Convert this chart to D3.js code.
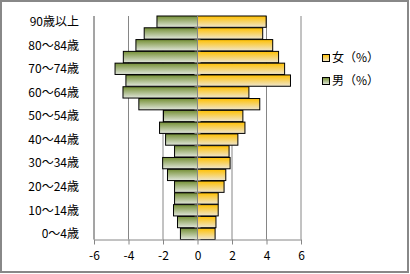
<!DOCTYPE html>
<html>
<head>
<meta charset="utf-8">
<script src="https://cdn.jsdelivr.net/npm/d3@7"></script>
<style>
  body { margin: 0; background: #fff; }
  svg { display: block; font-family: "Noto Sans CJK JP", "DejaVu Sans", sans-serif; }
</style>
</head>
<body>
<svg id="chart"></svg>
<script>
// age groups, bottom to top
const ageGroups = ['0〜4歳', '5〜9歳', '10〜14歳', '15〜19歳', '20〜24歳', '25〜29歳', '30〜34歳',
  '35〜39歳', '40〜44歳', '45〜49歳', '50〜54歳', '55〜59歳', '60〜64歳', '65〜69歳',
  '70〜74歳', '75〜79歳', '80〜84歳', '85〜89歳', '90歳以上'];
const shownLabels = ['0〜4歳', '10〜14歳', '20〜24歳', '30〜34歳', '40〜44歳', '50〜54歳',
  '60〜64歳', '70〜74歳', '80〜84歳', '90歳以上'];
const female = [1.02, 1.07, 1.2, 1.2, 1.54, 1.64, 1.89, 1.83, 2.34, 2.75, 2.63, 3.61, 2.98,
  5.39, 5.05, 4.7, 4.36, 3.78, 3.98];
const male = [-0.99, -1.16, -1.39, -1.33, -1.33, -1.74, -2.02, -1.33, -1.85, -2.2, -1.97, -3.4,
  -4.32, -4.15, -4.78, -4.3, -3.57, -3.09, -2.35];
const xTicks = [-6, -4, -2, 0, 2, 4, 6];
const seriesNames = ['女（%）', '男（%）'];

const W = 410, H = 274;
const plot = { left: 94, right: 301, top: 16, bottom: 239.5 };

const svg = d3.select('#chart').attr('width', W).attr('height', H);

// gradients
const defs = svg.append('defs');
function grad(id, top, bottom) {
  const g = defs.append('linearGradient').attr('id', id)
    .attr('x1', 0).attr('y1', 0).attr('x2', 0).attr('y2', 1);
  g.append('stop').attr('offset', '0%').attr('stop-color', top);
  g.append('stop').attr('offset', '100%').attr('stop-color', bottom);
}
grad('gF', '#ffc000', '#efe6cf');
grad('gM', '#748f34', '#e1e6dc');

// outer border
svg.append('rect')
  .attr('x', 1).attr('y', 1).attr('width', 407).attr('height', 271)
  .attr('fill', '#fff').attr('stroke', '#888').attr('stroke-width', 2);

const x = d3.scaleLinear().domain([-6, 6]).range([plot.left, plot.right]);
const y = d3.scaleBand().domain(ageGroups).range([plot.bottom, plot.top]).paddingInner(0.04);

// gridlines
svg.append('g')
  .selectAll('line')
  .data(xTicks.filter(d => d !== 0))
  .join('line')
  .attr('x1', d => x(d)).attr('x2', d => x(d))
  .attr('y1', plot.top).attr('y2', plot.bottom)
  .attr('stroke', '#868686').attr('stroke-width', 1);

// bars
const bh = y.bandwidth();
svg.append('g')
  .selectAll('rect')
  .data(ageGroups.map((a, i) => ({ a, v: male[i] })))
  .join('rect')
  .attr('x', d => x(d.v)).attr('y', d => y(d.a))
  .attr('width', d => x(0) - x(d.v)).attr('height', bh)
  .attr('fill', 'url(#gM)').attr('stroke', '#000').attr('stroke-width', 1);

svg.append('g')
  .selectAll('rect')
  .data(ageGroups.map((a, i) => ({ a, v: female[i] })))
  .join('rect')
  .attr('x', x(0)).attr('y', d => y(d.a))
  .attr('width', d => x(d.v) - x(0)).attr('height', bh)
  .attr('fill', 'url(#gF)').attr('stroke', '#000').attr('stroke-width', 1);

// vertical category axis at 0
const cat = svg.append('g');
cat.append('line')
  .attr('x1', x(0)).attr('x2', x(0)).attr('y1', plot.top).attr('y2', plot.bottom)
  .attr('stroke', '#868686');
cat.selectAll('line.t')
  .data(d3.range(ageGroups.length + 1))
  .join('line').attr('class', 't')
  .attr('x1', x(0) - 3).attr('x2', x(0) + 3)
  .attr('y1', i => plot.bottom - i * y.step())
  .attr('y2', i => plot.bottom - i * y.step())
  .attr('stroke', '#868686');

// category labels at left
svg.append('g')
  .selectAll('text')
  .data(shownLabels)
  .join('text')
  .attr('x', 79)
  .attr('y', d => y(d) + bh / 2)
  .attr('dy', '0.36em')
  .attr('text-anchor', 'end')
  .attr('font-size', 12)
  .attr('fill', '#000')
  .text(d => d);

// bottom axis
const xAxis = svg.append('g')
  .attr('transform', `translate(0,${plot.bottom})`)
  .call(d3.axisBottom(x).tickValues(xTicks).tickSize(5).tickSizeOuter(0)
    .tickFormat(d => d < 0 ? '-' + Math.abs(d) : d));
xAxis.select('.domain').attr('stroke', '#868686');
xAxis.selectAll('.tick line').attr('stroke', '#868686');
xAxis.selectAll('.tick text')
  .attr('font-size', 12).attr('fill', '#000').attr('y', 12)
  .attr('font-family', '"Noto Sans CJK JP", sans-serif');

// left edge line
svg.append('line')
  .attr('x1', plot.left).attr('x2', plot.left).attr('y1', plot.top).attr('y2', plot.bottom)
  .attr('stroke', '#868686');

// legend
const legend = svg.append('g').attr('transform', 'translate(322,58)');
seriesNames.forEach((name, i) => {
  const g = legend.append('g').attr('transform', `translate(0,${i * 23})`);
  g.append('rect')
    .attr('x', 0.5).attr('y', -3.5).attr('width', 7).attr('height', 7)
    .attr('fill', i === 0 ? 'url(#gF)' : 'url(#gM)')
    .attr('stroke', '#000').attr('stroke-width', 1);
  g.append('text')
    .attr('x', 10).attr('y', 0).attr('dy', '0.36em')
    .attr('font-size', 12).attr('fill', '#000')
    .text(name);
});
</script>
</body>
</html>
